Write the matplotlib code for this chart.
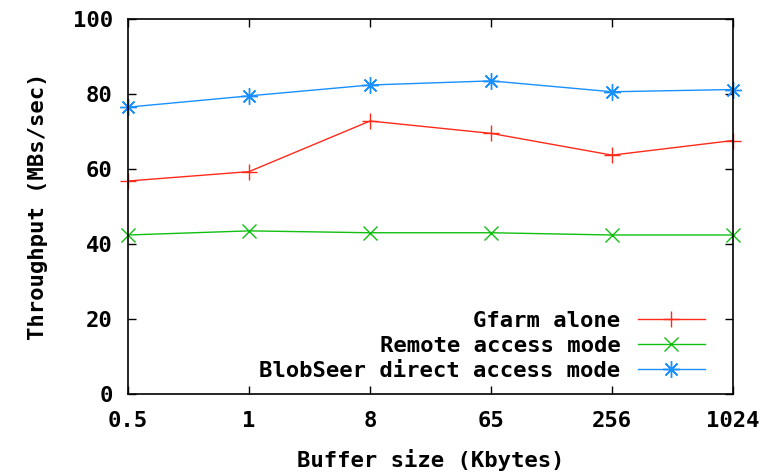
import matplotlib
matplotlib.use("Agg")
import matplotlib.pyplot as plt

buffer_sizes = ['0.5', '1', '8', '65', '256', '1024']
gfarm_alone = [56.8, 59.3, 72.8, 69.5, 63.7, 67.6]
remote_access = [42.4, 43.5, 43.0, 43.0, 42.4, 42.4]
blobseer_direct = [76.5, 79.5, 82.4, 83.5, 80.6, 81.2]

plt.rcParams['font.family'] = 'DejaVu Sans Mono'
plt.rcParams['font.weight'] = 'bold'
fs = 16

fig = plt.figure(figsize=(7.67, 4.72), dpi=100)
ax = fig.add_axes([0.1669, 0.1653, 0.7888, 0.7944])

x = range(len(buffer_sizes))
ax.plot(x, gfarm_alone, color='#ff2a1a', lw=1.0, marker='+', ms=12, mew=1.0,
        label='Gfarm alone', clip_on=False)
ax.plot(x, remote_access, color='#10c010', lw=1.0, marker='x', ms=10, mew=1.0,
        label='Remote access mode', clip_on=False)
ax.plot(x, blobseer_direct, color='#1a90ff', lw=1.0, marker=(8, 2, 0), ms=12, mew=1.0,
        label='BlobSeer direct access mode', clip_on=False)

ax.set_xlim(0, len(buffer_sizes) - 1)
ax.set_ylim(0, 100)
ax.set_xticks(list(x))
ax.set_xticklabels(buffer_sizes)
ax.set_yticks(range(0, 101, 20))
ax.tick_params(direction='in', top=True, right=True, length=6, width=1,
               labelsize=fs)
ax.tick_params(axis='y', pad=11)
ax.tick_params(axis='x', pad=12)
for s in ax.spines.values():
    s.set_linewidth(1.2)

ax.set_xlabel('Buffer size (Kbytes)', fontsize=fs, fontweight='bold', labelpad=13)
ax.set_ylabel('Throughput (MBs/sec)', fontsize=fs, fontweight='bold', labelpad=18)

leg = ax.legend(loc='lower right', frameon=False, markerfirst=False,
                fontsize=fs, handlelength=3.0, handletextpad=0.8,
                labelspacing=0.22, borderaxespad=0.0,
                bbox_to_anchor=(0.968, 0.012))
for t in leg.get_texts():
    t.set_ha('right')

fig.savefig('out.png', dpi=100)
